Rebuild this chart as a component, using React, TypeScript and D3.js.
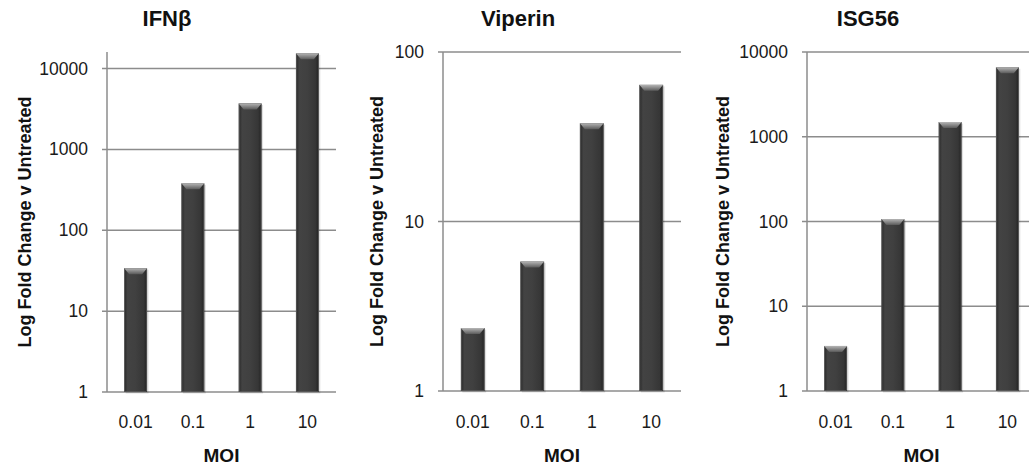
import React from 'react';
import * as d3 from 'd3';

// categories on the x axis (MOI)
const categories = ['0.01', '0.1', '1', '10'];

// fold change values
const ifnbValues = [34, 380, 3700, 15400];
const viperinValues = [2.35, 5.8, 38, 64];
const isg56Values = [3.4, 107, 1490, 6600];

// y tick labels
const ifnbTicks = [1, 10, 100, 1000, 10000];
const viperinTicks = [1, 10, 100];
const isg56Ticks = [1, 10, 100, 1000, 10000];

const panels = [
  { title: 'IFNβ', values: ifnbValues, ticks: ifnbTicks, yMax: 16000, left: 107, right: 336, top: 52, bottom: 392, titleX: 167, yLabelX: 25 },
  { title: 'Viperin', values: viperinValues, ticks: viperinTicks, yMax: 100, left: 443, right: 681, top: 52, bottom: 391, titleX: 518, yLabelX: 377 },
  { title: 'ISG56', values: isg56Values, ticks: isg56Ticks, yMax: 10000, left: 807, right: 1036, top: 52, bottom: 391, titleX: 868, yLabelX: 723 },
];

const font = 'Liberation Sans, Arial, sans-serif';
const gridColor = '#8c8c8c';

const Panel = ({ p }) => {
  const x = d3.scaleBand().domain(categories).range([p.left, p.right]).paddingInner(0.6).paddingOuter(0.3);
  const y = d3.scaleLog().domain([1, p.yMax]).range([p.bottom, p.top]);
  const bw = x.bandwidth();

  return (
    <g>
      {/* gridlines + tick marks */}
      {p.ticks.map(t => (
        <line key={t} x1={p.left - 5} x2={p.right} y1={y(t)} y2={y(t)} stroke={gridColor} strokeWidth={1.5} />
      ))}
      <line x1={p.left} x2={p.left} y1={p.top} y2={p.bottom} stroke={gridColor} strokeWidth={1.5} />
      {p.ticks.map(t => (
        <text key={'l' + t} x={p.left - 19} y={y(t)} textAnchor="end" dominantBaseline="central"
          fontFamily={font} fontSize={17.5} fill="#1a1a1a">{t}</text>
      ))}

      {/* bars */}
      {p.values.map((v, i) => {
        const bx = x(categories[i]);
        const by = y(v);
        const h = p.bottom - by;
        return (
          <g key={i}>
            <rect x={bx + 1.5} y={by + 1.5} width={bw} height={h} fill="#000" opacity={0.12} />
            <rect x={bx} y={by} width={bw} height={h} fill="url(#barBody)" />
            <rect x={bx + 0.5} y={by + 0.5} width={bw - 1} height={h - 1} fill="none" stroke="#666" strokeWidth={0.6} />
            <polygon points={`${bx},${by} ${bx + bw},${by} ${bx + bw - 5},${by + 6} ${bx + 5},${by + 6}`} fill="url(#barTop)" />
          </g>
        );
      })}

      {/* x tick labels */}
      {categories.map(c => (
        <text key={c} x={x(c) + bw / 2} y={422} textAnchor="middle" dominantBaseline="central"
          fontFamily={font} fontSize={17.5} fill="#1a1a1a">{c}</text>
      ))}

      <text x={p.titleX} y={18} textAnchor="middle" dominantBaseline="central"
        fontFamily={font} fontSize={22} fontWeight="bold" fill="#111">{p.title}</text>
      <text x={(p.left + p.right) / 2} y={455} textAnchor="middle" dominantBaseline="central"
        fontFamily={font} fontSize={19} fontWeight="bold" fill="#111">MOI</text>
      <text transform={`translate(${p.yLabelX},${(p.top + p.bottom) / 2}) rotate(-90)`} textAnchor="middle"
        dominantBaseline="central" fontFamily={font} fontSize={18} fontWeight="bold" fill="#111">
        Log Fold Change v Untreated
      </text>
    </g>
  );
};

export default function App() {
  return (
    <svg width={1029} height={467} style={{ position: 'absolute', left: 0, top: 0, background: '#fff' }}>
      <defs>
        <linearGradient id="barBody" x1="0" x2="1" y1="0" y2="0">
          <stop offset="0" stopColor="#282828" />
          <stop offset="0.15" stopColor="#434343" />
          <stop offset="0.5" stopColor="#404040" />
          <stop offset="0.85" stopColor="#363636" />
          <stop offset="1" stopColor="#222" />
        </linearGradient>
        <linearGradient id="barTop" x1="0" x2="0" y1="0" y2="1">
          <stop offset="0" stopColor="#b5b5b5" />
          <stop offset="1" stopColor="#5a5a5a" />
        </linearGradient>
      </defs>
      <rect width={1029} height={467} fill="#fff" />
      {panels.map(p => <Panel key={p.title} p={p} />)}
    </svg>
  );
}
